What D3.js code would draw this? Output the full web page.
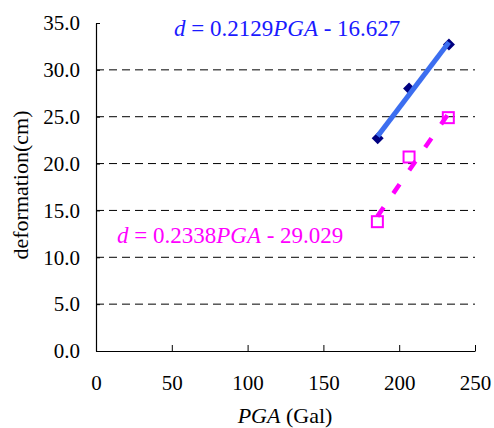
<!DOCTYPE html>
<html><head><meta charset="utf-8">
<script src="https://cdn.jsdelivr.net/npm/d3@7"></script>
<style>
body{margin:0;background:#fff;font-family:"Liberation Serif","Times New Roman",serif}
svg{display:block;font-family:"Liberation Serif","Times New Roman",serif}
svg text, svg tspan{font-family:"Liberation Serif","Times New Roman",serif !important}
</style>
</head><body>
<svg id="c" width="494" height="428" font-family="Liberation Serif"></svg>
<script>
const xTicks = [0, 50, 100, 150, 200, 250];
const yTicks = [0, 5, 10, 15, 20, 25, 30, 35];
const pgaA = [185.8, 206.5, 232.8];
const defA = [22.7, 28.0, 32.7];
const pgaB = [185.6, 206.5, 232.4];
const defB = [13.8, 20.7, 24.9];
const fitA = {slope: 0.2129, intercept: -16.627, label: ["d", " = 0.2129", "PGA", " - 16.627"]};
const fitB = {slope: 0.2338, intercept: -29.029, label: ["d", " = 0.2338", "PGA", " - 29.029"]};

const svg = d3.select("#c");
const font = '"Liberation Serif", "Times New Roman", serif';
const x = d3.scaleLinear().domain([0, 250]).range([96, 475]);
const y = d3.scaleLinear().domain([0, 35]).range([351, 23]);

// gridlines
svg.append("g").selectAll("line").data(yTicks.filter(v => v > 0 && v < 35)).join("line")
  .attr("x1", x(0)).attr("x2", x(250)).attr("y1", d => y(d)).attr("y2", d => y(d))
  .attr("stroke", "#000").attr("stroke-width", 1).attr("stroke-dasharray", "8,5");

// axes
const ya = svg.append("g").attr("transform", `translate(${x(0)},0)`)
  .call(d3.axisLeft(y).tickValues(yTicks).tickFormat(d3.format(".1f")).tickSizeInner(-4).tickSizeOuter(0).tickPadding(16));
const xa = svg.append("g").attr("transform", `translate(0,${y(0)})`)
  .call(d3.axisBottom(x).tickValues(xTicks).tickFormat(d3.format("d")).tickSizeInner(-6).tickSizeOuter(0).tickPadding(24));
[ya, xa].forEach(a => {
  a.attr("font-family", font).attr("font-size", 21);
  a.selectAll("text").style("font-family", font).style("font-size", "21px").attr("fill", "#000");
  a.select(".domain").attr("stroke", "#000").attr("stroke-width", 1.2);
  a.selectAll(".tick line").attr("stroke", "#000");
});

// trend lines
function trend(fit, xs) {
  const x0 = d3.min(xs), x1 = d3.max(xs);
  return [[x0, fit.slope * x0 + fit.intercept], [x1, fit.slope * x1 + fit.intercept]];
}
const line = d3.line().x(d => x(d[0])).y(d => y(d[1]));
svg.append("path").datum(trend(fitB, pgaB)).attr("d", line)
  .attr("stroke", "#ff00ff").attr("stroke-width", 4.5).attr("fill", "none").attr("stroke-dasharray", "11,17");

// series B squares
svg.append("g").selectAll("rect").data(pgaB.map((p, i) => [p, defB[i]])).join("rect")
  .attr("x", d => x(d[0]) - 5.5).attr("y", d => y(d[1]) - 5.5).attr("width", 11).attr("height", 11)
  .attr("fill", "none").attr("stroke", "#ff00ff").attr("stroke-width", 2);

// series A diamonds
svg.append("g").selectAll("path").data(pgaA.map((p, i) => [p, defA[i]])).join("path")
  .attr("d", d3.symbol(d3.symbolSquare, 72))
  .attr("transform", d => `translate(${x(d[0])},${y(d[1])}) rotate(45)`)
  .attr("fill", "#000080");

svg.append("path").datum(trend(fitA, pgaA)).attr("d", line)
  .attr("stroke", "#3c6ef0").attr("stroke-width", 5).attr("fill", "none");

// equations
function eq(fit, xx, yy, color) {
  const t = svg.append("text").attr("x", xx).attr("y", yy).style("font-family", font)
    .style("font-size", "23px").attr("fill", color);
  fit.label.forEach((s, i) => t.append("tspan").text(s).attr("font-style", i % 2 === 0 ? "italic" : "normal"));
}
eq(fitA, 174, 36, "#1a1aff");
eq(fitB, 117, 243, "#ff00ff");

// axis titles
const xt = svg.append("text").attr("x", 285).attr("y", 423).attr("text-anchor", "middle")
  .style("font-family", font).style("font-size", "22px").attr("fill", "#000");
xt.append("tspan").text("PGA").attr("font-style", "italic");
xt.append("tspan").text(" (Gal)");
svg.append("text").attr("transform", `translate(20,185) rotate(-90)`).attr("text-anchor", "middle")
  .attr("dy", "0.35em")
  .style("font-family", font).style("font-size", "22px").attr("fill", "#000").text("deformation(cm)");
</script>
</body></html>
